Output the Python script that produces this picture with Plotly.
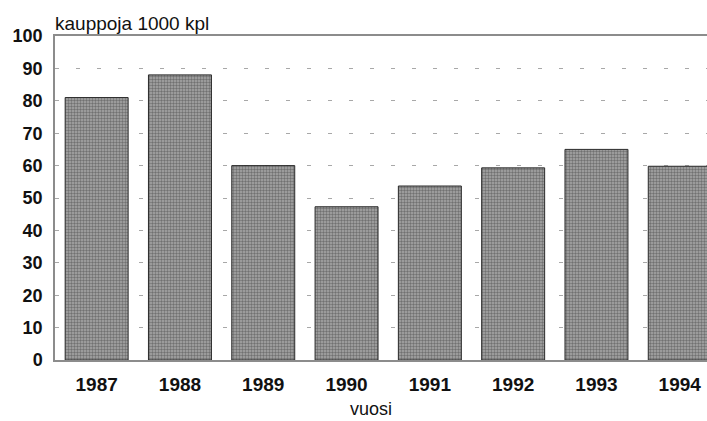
import plotly.graph_objects as go

years = ["1987", "1988", "1989", "1990", "1991", "1992", "1993", "1994"]
trades = [81, 88, 60, 47.3, 53.7, 59.3, 65, 59.8]
y_ticks = [0, 10, 20, 30, 40, 50, 60, 70, 80, 90, 100]

y_title = "kauppoja 1000 kpl"
x_title = "vuosi"

FONT = "Liberation Sans, Arial, sans-serif"

fig = go.Figure()
fig.add_trace(go.Bar(
    x=years, y=trades, width=0.756,
    marker=dict(
        color="#7a7a7a",
        line=dict(color="#2a2a2a", width=1),
        pattern=dict(shape=".", fgcolor="#3a3a3a", bgcolor="#a8a8a8", size=3, solidity=0.5),
    ),
))

fig.update_layout(
    width=707, height=421,
    margin=dict(l=55, r=0, t=36, b=61),
    paper_bgcolor="white", plot_bgcolor="white",
    showlegend=False,
    font=dict(family=FONT, color="#111111"),
    bargap=0.244,
)
fig.update_xaxes(
    type="category", range=[-0.5, 7.327],
    showline=True, linecolor="#8c8c8c", linewidth=1.5, mirror=True,
    showgrid=False, ticks="", ticklabelstandoff=6,
    tickfont=dict(family=FONT, size=19, color="#111111", weight="bold"),
)
fig.update_yaxes(
    range=[0, 100], tickvals=y_ticks, ticktext=[str(v) for v in y_ticks],
    showline=True, linecolor="#8c8c8c", linewidth=1.5,
    showgrid=True, gridcolor="#a8a8a8", gridwidth=1, griddash="4px,17px",
    zeroline=False, ticks="", ticklabelstandoff=7,
    tickfont=dict(family=FONT, size=18, color="#111111", weight="bold"),
)
fig.add_annotation(
    text=y_title, xref="paper", yref="paper", x=0, y=1,
    xanchor="left", yanchor="bottom", yshift=0, xshift=-2, showarrow=False,
    font=dict(family=FONT, size=19, color="#111111"),
)
fig.add_annotation(
    text=x_title, xref="paper", yref="paper", x=0.485, y=0,
    xanchor="center", yanchor="middle", yshift=-49, showarrow=False,
    font=dict(family=FONT, size=18, color="#111111"),
)

fig.write_html(
    "out.html",
    config={"displayModeBar": False},
    post_script="document.body.style.margin='0';document.body.style.overflow='hidden';",
)
